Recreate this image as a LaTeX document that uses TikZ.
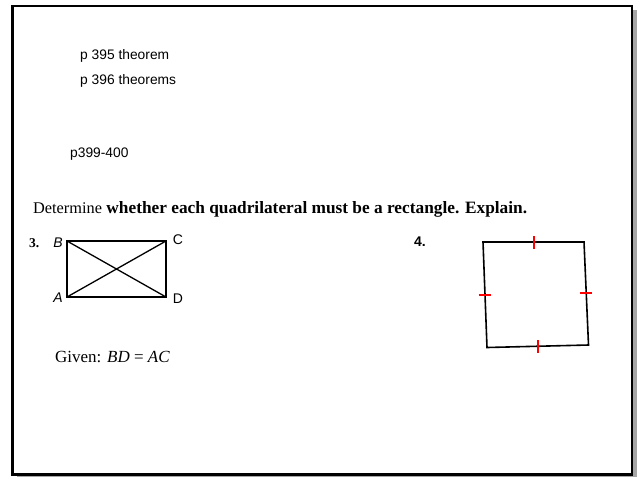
\documentclass[tikz,border=0pt]{standalone}
\usepackage{fontspec}
\setmainfont{Liberation Serif}
\newfontfamily\arialf{Liberation Sans}
\begin{document}
\begin{tikzpicture}[x=1pt,y=-1pt,
  note/.style={anchor=base west,inner sep=0pt,font=\arialf\fontsize{13.8}{16}\selectfont},
  vlabel/.style={inner sep=0pt,font=\arialf\fontsize{14}{16}\selectfont},
  tickmark/.style={draw=red,line width=1.6pt},
  quadline/.style={draw=black,line width=1.6pt,line join=miter}]
\useasboundingbox (0,0) rectangle (639,477);
\fill[white] (0,0) rectangle (639,477);
% frame with shadow
\fill[gray!70] (17,10) rectangle (637,477);
\filldraw[fill=white,draw=black,line width=2.2pt] (12.5,6) rectangle (632,474.5);
% notes
\node[note] (n1) at (80,59) {p 395 theorem};
\node[note] (n2) at (80,84) {p 396 theorems};
\node[note] (n3) at (70,157) {p399-400};
% heading
\node[anchor=base west,inner sep=0pt] (head) at (33,213)
  {{\fontsize{16.3}{18}\selectfont Determine}\hspace{2pt} {\bfseries\fontsize{17.3}{20}\selectfont whether each quadrilateral must be a rectangle. Explain.}};
% problem 3
\node[anchor=base west,inner sep=0pt,font=\bfseries\fontsize{13.5}{15}\selectfont] (p3) at (29,247) {3.};
\coordinate (B) at (67,241);
\coordinate (C) at (166,241);
\coordinate (A) at (67,297);
\coordinate (D) at (166,297);
\draw[quadline] (B) -- (C) -- (D) -- (A) -- cycle;
\draw[line width=1.3pt] (B) -- (D);
\draw[line width=1.3pt] (A) -- (C);
\node[vlabel,font=\arialf\itshape\fontsize{14}{16}\selectfont] (lB) at (58,243) {B};
\node[vlabel] (lC) at (178,240) {C};
\node[vlabel,font=\arialf\itshape\fontsize{14}{16}\selectfont] (lA) at (58,298) {A};
\node[vlabel] (lD) at (178,299) {D};
\node[anchor=base west,inner sep=0pt,font=\fontsize{17}{19}\selectfont] (given) at (55,362) {Given: \textit{BD} = \textit{AC}};
% problem 4
\node[inner sep=0pt,font=\arialf\bfseries\fontsize{14}{16}\selectfont] (p4) at (420,242) {4.};
\coordinate (P) at (483,242);
\coordinate (Q) at (584,242);
\coordinate (R) at (588.5,345);
\coordinate (S) at (487,347.5);
\draw[quadline] (P) -- (Q) -- (R) -- (S) -- cycle;
\draw[tickmark] (534,236) -- (534,249);
\draw[tickmark] (478.5,295) -- (490.5,295);
\draw[tickmark] (580,293) -- (592,293);
\draw[tickmark] (538,340) -- (538,353);
\end{tikzpicture}
\end{document}
